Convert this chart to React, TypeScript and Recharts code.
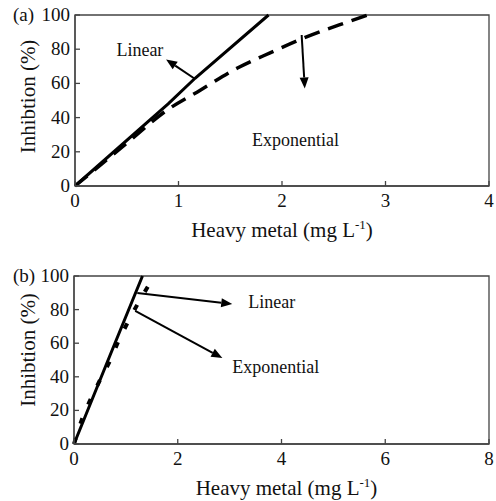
import React from "react";
import {
  LineChart,
  Line,
  XAxis,
  YAxis,
  ReferenceArea,
  ReferenceLine,
  ReferenceDot,
  Label,
} from "recharts";

const FONT = "'Liberation Serif', 'Times New Roman', serif";
const AXIS = "#444";

const yTicks = [0, 20, 40, 60, 80, 100];
const xTicksA = [0, 1, 2, 3, 4];
const xTicksB = [0, 2, 4, 6, 8];

// panel (a)
const linearA = [
  { x: 0, y: 0 },
  { x: 0.9, y: 48 },
  { x: 1.16, y: 63 },
  { x: 1.87, y: 100 },
];
const expA = [
  { x: 0, y: 0 },
  { x: 0.5, y: 25 },
  { x: 0.89, y: 44.4 },
  { x: 1.21, y: 56 },
  { x: 1.57, y: 69 },
  { x: 1.89, y: 78 },
  { x: 2.21, y: 86.5 },
  { x: 2.59, y: 95 },
  { x: 2.83, y: 100 },
];

// panel (b)
const linearB = [
  { x: 0, y: 0 },
  { x: 0.75, y: 57 },
  { x: 1.32, y: 100 },
];
const expB = [
  { x: 0, y: 0 },
  { x: 0.17, y: 16 },
  { x: 0.31, y: 26 },
  { x: 0.5, y: 38 },
  { x: 0.7, y: 50 },
  { x: 0.85, y: 60.7 },
  { x: 1.04, y: 72.6 },
  { x: 1.24, y: 84 },
  { x: 1.45, y: 95 },
];

const Arrow = (p: any) => {
  const { x1, y1, x2, y2 } = p;
  const dx = x2 - x1;
  const dy = y2 - y1;
  const len = Math.sqrt(dx * dx + dy * dy) || 1;
  const ux = dx / len;
  const uy = dy / len;
  const hl = 11;
  const hw = 4.5;
  const bx = x2 - ux * hl;
  const by = y2 - uy * hl;
  const pts = `${x2},${y2} ${bx - uy * hw},${by + ux * hw} ${bx + uy * hw},${by - ux * hw}`;
  return (
    <g>
      <line x1={x1} y1={y1} x2={bx} y2={by} stroke="#000" strokeWidth={2} />
      <polygon points={pts} fill="#000" />
    </g>
  );
};

const textAt = (value: string, anchor: string) => (p: any) => (
  <text
    x={p.cx}
    y={p.cy}
    dy={6}
    textAnchor={anchor}
    fontFamily={FONT}
    fontSize={18}
    fill="#111"
  >
    {value}
  </text>
);

const xTick = (p: any) => (
  <g>
    <line x1={p.x} x2={p.x} y1={p.y} y2={p.y - 5} stroke={AXIS} strokeWidth={1.3} />
    <text x={p.x} y={p.y + 21} textAnchor="middle" fontFamily={FONT} fontSize={19} fill="#111">
      {p.payload.value}
    </text>
  </g>
);

const yTick = (tag: string) => (p: any) => (
  <g>
    <line x1={p.x} x2={p.x + 5} y1={p.y} y2={p.y} stroke={AXIS} strokeWidth={1.3} />
    <text x={p.x - 5} y={p.y + 6} textAnchor="end" fontFamily={FONT} fontSize={19} fill="#111">
      {p.payload.value}
    </text>
    {p.payload.value === 100 ? (
      <text x={13} y={p.y + 6} fontFamily={FONT} fontSize={19} fill="#111">
        {tag}
      </text>
    ) : null}
  </g>
);

const yLabel = (shift: number) => (p: any) => {
  const vb = p.viewBox;
  const cx = 28;
  const cy = vb.y + vb.height / 2 + shift;
  return (
    <text
      x={cx}
      y={cy}
      dy={7}
      transform={`rotate(-90, ${cx}, ${cy})`}
      textAnchor="middle"
      fontFamily={FONT}
      fontSize={21}
      fill="#111"
    >
      Inhibtion (%)
    </text>
  );
};

const xLabel = (shift: number) => (p: any) => {
  const vb = p.viewBox;
  return (
    <text
      x={vb.x + vb.width / 2 + shift}
      y={vb.y + 51}
      textAnchor="middle"
      fontFamily={FONT}
      fontSize={21}
      fill="#111"
    >
      Heavy metal (mg L
      <tspan dy={-8} fontSize={13}>-1</tspan>
      <tspan dy={8}>)</tspan>
    </text>
  );
};

export default function App() {
  return (
    <div style={{ position: "absolute", left: 0, top: 0, width: 496, height: 501, background: "#fff" }}>
      <div style={{ position: "absolute", left: 0, top: 0 }}>
        <LineChart width={496} height={250} margin={{ top: 15, right: 7, left: 0, bottom: 0 }}>
          <XAxis
            type="number"
            dataKey="x"
            domain={[0, 4]}
            ticks={xTicksA}
            height={64}
            tickSize={0}
            tickMargin={0}
            tickLine={false}
            stroke={AXIS}
            strokeWidth={1.3}
            tick={xTick}
          >
            <Label content={xLabel(0)} />
          </XAxis>
          <YAxis
            type="number"
            dataKey="y"
            domain={[0, 100]}
            ticks={yTicks}
            width={75}
            tickSize={0}
            tickMargin={0}
            tickLine={false}
            stroke={AXIS}
            strokeWidth={1.3}
            tick={yTick("(a)")}
          >
            <Label content={yLabel(-4)} />
          </YAxis>
          <ReferenceArea x1={0} x2={4} y1={0} y2={100} fill="none" stroke={AXIS} strokeWidth={1.3} />
          <Line data={linearA} dataKey="y" type="linear" stroke="#000" strokeWidth={3} dot={false} isAnimationActive={false} />
          <Line data={expA} dataKey="y" type="monotone" stroke="#000" strokeWidth={3.5} strokeDasharray="16 9" dot={false} isAnimationActive={false} />
          <ReferenceLine segment={[{ x: 1.15, y: 63 }, { x: 0.88, y: 74 }]} shape={Arrow} />
          <ReferenceLine segment={[{ x: 2.19, y: 88.3 }, { x: 2.22, y: 57 }]} shape={Arrow} />
          <ReferenceDot x={0.4} y={79.5} r={0} shape={textAt("Linear", "start")} />
          <ReferenceDot x={1.71} y={27} r={0} shape={textAt("Exponential", "start")} />
        </LineChart>
      </div>
      <div style={{ position: "absolute", left: 0, top: 250 }}>
        <LineChart width={496} height={251} margin={{ top: 26, right: 7, left: 0, bottom: 0 }}>
          <XAxis
            type="number"
            dataKey="x"
            domain={[0, 8]}
            ticks={xTicksB}
            height={57}
            tickSize={0}
            tickMargin={0}
            tickLine={false}
            stroke={AXIS}
            strokeWidth={1.3}
            tick={xTick}
          >
            <Label content={xLabel(5)} />
          </XAxis>
          <YAxis
            type="number"
            dataKey="y"
            domain={[0, 100]}
            ticks={yTicks}
            width={74}
            tickSize={0}
            tickMargin={0}
            tickLine={false}
            stroke={AXIS}
            strokeWidth={1.3}
            tick={yTick("(b)")}
          >
            <Label content={yLabel(-10)} />
          </YAxis>
          <ReferenceArea x1={0} x2={8} y1={0} y2={100} fill="none" stroke={AXIS} strokeWidth={1.3} />
          <Line data={linearB} dataKey="y" type="linear" stroke="#000" strokeWidth={3} dot={false} isAnimationActive={false} />
          <Line data={expB} dataKey="y" type="monotone" stroke="#000" strokeWidth={4} strokeDasharray="6 15" dot={false} isAnimationActive={false} />
          <ReferenceLine segment={[{ x: 1.22, y: 89.9 }, { x: 3.05, y: 83.3 }]} shape={Arrow} />
          <ReferenceLine segment={[{ x: 1.18, y: 79.2 }, { x: 2.86, y: 51.2 }]} shape={Arrow} />
          <ReferenceDot x={3.36} y={84.5} r={0} shape={textAt("Linear", "start")} />
          <ReferenceDot x={3.05} y={45.8} r={0} shape={textAt("Exponential", "start")} />
        </LineChart>
      </div>
    </div>
  );
}
